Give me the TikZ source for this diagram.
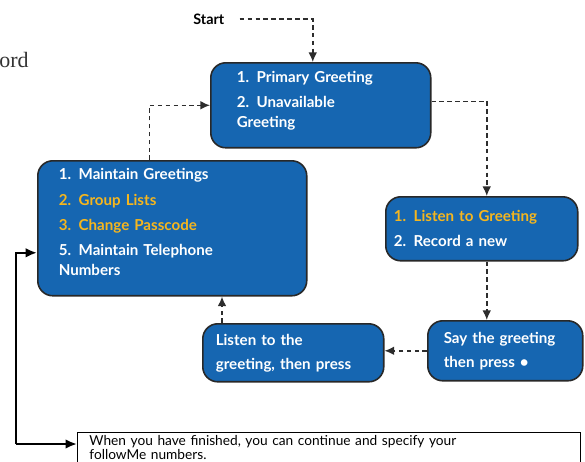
\documentclass[tikz,border=0pt]{standalone}
\usepackage{fontspec}
\setmainfont{Lato}
\newfontfamily\serifpart{Liberation Serif}
\usetikzlibrary{arrows.meta}

\definecolor{menublue}{RGB}{22,102,177}
\definecolor{menuedge}{RGB}{40,40,40}
\definecolor{optyellow}{RGB}{245,182,30}
\definecolor{flowgray}{RGB}{45,45,45}

\tikzset{
    menubox/.style={draw=menuedge, line width=0.9pt, fill=menublue, rounded corners=0.3cm,
        text=white, align=left, anchor=north west, inner ysep=0pt,
        font=\fontsize{8.6}{11.2}\selectfont\bfseries},
    flow/.style={draw=flowgray, line width=0.85pt, dash pattern=on 2.6pt off 1.9pt,
        -{Latex[length=5.5pt,width=5pt]}},
    jump/.style={draw=black, line width=1.3pt, -{Latex[length=6.5pt,width=5.5pt]}},
    notebox/.style={draw=black, line width=0.5pt, anchor=north west, align=left,
        inner xsep=0.24cm, inner ysep=1.5pt, font=\fontsize{7.8}{7.9}\selectfont}
}

\begin{document}
\begin{tikzpicture}[x=0.02cm,y=-0.02cm]

        \useasboundingbox (0,0) rectangle (585,461);

        \node [anchor=west, text=black!80, inner sep=0pt, font=\serifpart\fontsize{12.5}{14}\selectfont] (ord) at (-1,60) {ord};
        \node [anchor=west, inner sep=0pt, font=\fontsize{8.2}{10}\selectfont\bfseries] (start) at (193,19) {Start};

        % menus
        \node [menubox, minimum height=1.7cm, inner xsep=0.52cm, text width=3.36cm] (greet) at (210,62)
            {1. Primary Greeting\\[3pt] 2. Unavailable\\ Greeting\\[-4.5pt]\mbox{}};
        \node [menubox, minimum height=2.7cm, inner xsep=0.42cm, text width=4.54cm] (main) at (37,160)
            {1. Maintain Greetings\\[3.5pt] \textcolor{optyellow}{2. Group Lists}\\[3pt]
             \textcolor{optyellow}{3. Change Passcode}\\[3pt] 5. Maintain Telephone\\ Numbers\\[-4pt]\mbox{}};
        \node [menubox, minimum height=1.28cm, inner xsep=0.16cm, text width=3.52cm] (listen) at (385,196)
            {\textcolor{optyellow}{1. Listen to Greeting}\\[3pt] 2. Record a new};
        \node [menubox, minimum height=1.2cm, inner xsep=0.32cm, text width=2.46cm] (say) at (427,320)
            {Say the greeting\\[2.5pt] then press \textbullet};
        \node [menubox, minimum height=1.16cm, inner xsep=0.26cm, text width=3.1cm] (check) at (202,323)
            {Listen to the\\[2.5pt] greeting, then press};

        \node [notebox, minimum width=10.06cm, text width=9.58cm, text depth=10pt] (note) at (77,432)
            {When you have finished, you can continue and specify your\\ followMe numbers.};

        % dashed flow
        \draw [flow, shorten <=0.3cm] (start.east) -| ([xshift=-0.16cm]greet.north);
        \draw [flow] ([yshift=0.08cm]greet.east) -| ([xshift=0.1cm]listen.north);
        \draw [flow] ([xshift=-0.46cm]main.north) |- (greet.west);
        \draw [flow] ([xshift=0.1cm]listen.south) -- ([xshift=0.1cm]listen.south |- say.north);
        \draw [flow] (say.west) -- (say.west -| check.east);
        \draw [flow] ([xshift=0.4cm]check.north west) -- ([xshift=0.4cm]check.north west |- main.south);

        % back to the menu
        \coordinate (loop) at (16,444);
        \draw [jump] (loop) |- ([yshift=-0.49cm]main.west);
        \draw [jump] (loop) -- (loop -| note.west);

\end{tikzpicture}
\end{document}
